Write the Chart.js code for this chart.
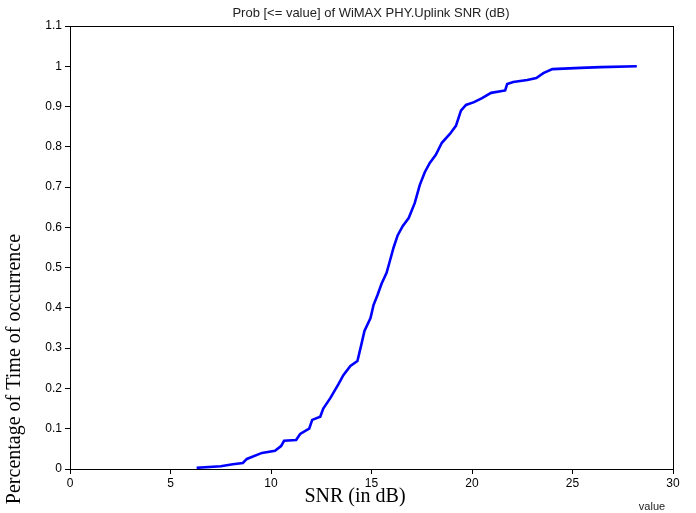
<!DOCTYPE html>
<html>
<head>
<meta charset="utf-8">
<script src="https://cdn.jsdelivr.net/npm/chart.js@4"></script>
<style>
  body { margin: 0; background: #fff; }
  canvas { display: block; }
</style>
</head>
<body>
<canvas id="cdf" width="696" height="513"></canvas>
<script>
// SNR values (dB) and cumulative probability
var snr = [6.3, 7.5, 8.1, 8.6, 8.8, 9.55, 10.2, 10.5, 10.65, 11.25, 11.45, 11.9, 12.05, 12.45, 12.6,
  12.95, 13.35, 13.6, 13.95, 14.3, 14.5, 14.65, 14.95, 15.1, 15.3, 15.5, 15.75, 15.9, 16.1, 16.3,
  16.55, 16.85, 17.15, 17.4, 17.65, 17.9, 18.2, 18.5, 18.9, 19.2, 19.45, 19.7, 20.1, 20.5, 20.95,
  21.65, 21.75, 22.05, 22.75, 23.2, 23.55, 24.0, 25.4, 26.4, 28.2];
var prob = [0.003, 0.007, 0.012, 0.015, 0.025, 0.04, 0.045, 0.057, 0.07, 0.072, 0.087, 0.10, 0.122, 0.13, 0.15,
  0.176, 0.21, 0.233, 0.256, 0.268, 0.31, 0.343, 0.375, 0.407, 0.432, 0.46, 0.487, 0.514, 0.55, 0.58,
  0.603, 0.623, 0.66, 0.705, 0.737, 0.76, 0.78, 0.81, 0.832, 0.852, 0.89, 0.904, 0.911, 0.921, 0.934,
  0.94, 0.956, 0.961, 0.966, 0.971, 0.983, 0.993, 0.996, 0.998, 1.0];
var xTicks = [0, 5, 10, 15, 20, 25, 30];
var yTicks = [0, 0.1, 0.2, 0.3, 0.4, 0.5, 0.6, 0.7, 0.8, 0.9, 1, 1.1];

var chartTitle = 'Prob [<= value] of WiMAX PHY.Uplink SNR (dB)';
var xLabel = 'SNR (in dB)';
var yLabel = 'Percentage of Time of occurrence';

var points = snr.map(function (v, i) { return { x: v, y: prob[i] }; });

var extras = {
  id: 'extras',
  afterDraw: function (chart) {
    var ctx = chart.ctx;
    var a = chart.chartArea;
    ctx.save();
    // frame round the plot
    ctx.strokeStyle = '#000';
    ctx.lineWidth = 1;
    ctx.strokeRect(Math.round(a.left) + 0.5, Math.round(a.top) + 0.5,
      Math.round(a.right - a.left), Math.round(a.bottom - a.top));

    ctx.fillStyle = '#222';
    ctx.font = '13px "Liberation Sans", Arial, sans-serif';
    ctx.textAlign = 'center';
    ctx.textBaseline = 'middle';
    ctx.fillText(chartTitle, 371, 13);

    ctx.fillStyle = '#000';
    ctx.font = '20px "Liberation Serif", "Times New Roman", serif';
    ctx.textBaseline = 'alphabetic';
    ctx.fillText(xLabel, 355, 502);

    ctx.save();
    ctx.translate(20, 369);
    ctx.rotate(-Math.PI / 2);
    ctx.fillText(yLabel, 0, 0);
    ctx.restore();

    ctx.font = '11px "Liberation Sans", Arial, sans-serif';
    ctx.fillStyle = '#222';
    ctx.fillText('value', 652, 510);
    ctx.restore();
  }
};

function plain(v) { return String(v); }

new Chart(document.getElementById('cdf'), {
  type: 'line',
  data: {
    datasets: [{
      data: points,
      borderColor: '#0000ff',
      borderWidth: 2.6,
      pointRadius: 0,
      fill: false,
      tension: 0
    }]
  },
  options: {
    responsive: false,
    animation: false,
    layout: { padding: { top: 26, right: 23, left: 0, bottom: 0 } },
    plugins: {
      legend: { display: false },
      tooltip: { enabled: false },
      title: { display: false }
    },
    scales: {
      x: {
        type: 'linear',
        min: 0,
        max: 30,
        afterBuildTicks: function (s) { s.ticks = xTicks.map(function (v) { return { value: v }; }); },
        afterFit: function (s) { s.height = 44; },
        grid: { drawOnChartArea: false, tickLength: 5, color: '#000' },
        border: { color: '#000' },
        ticks: { color: '#000', padding: 2, maxRotation: 0, callback: plain,
          font: { family: '"Liberation Sans", Arial, sans-serif', size: 12 } }
      },
      y: {
        min: 0,
        max: 1.1,
        afterBuildTicks: function (s) { s.ticks = yTicks.map(function (v) { return { value: v }; }); },
        afterFit: function (s) { s.width = 70; },
        grid: { drawOnChartArea: false, tickLength: 5, color: '#000' },
        border: { color: '#000' },
        ticks: { color: '#000', padding: 3, callback: plain,
          font: { family: '"Liberation Sans", Arial, sans-serif', size: 12 } }
      }
    }
  },
  plugins: [extras]
});
</script>
</body>
</html>
